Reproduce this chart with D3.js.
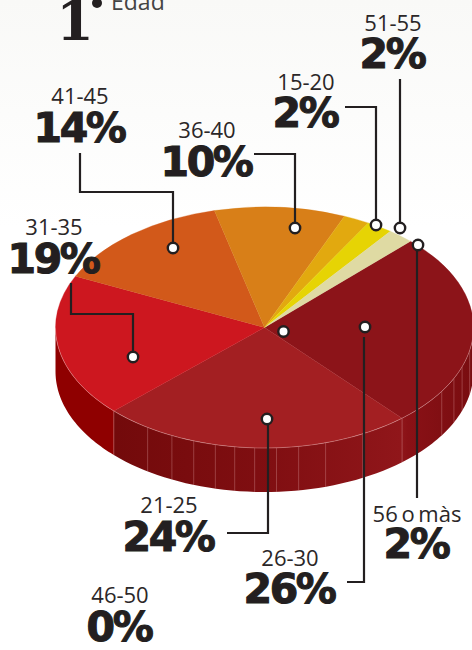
<!DOCTYPE html>
<html><head><meta charset="utf-8">
<script src="https://cdn.jsdelivr.net/npm/d3@7"></script>
<style>
html,body{margin:0;padding:0;background:#fff;overflow:hidden}
svg{display:block}
.lab{font-family:"Open Sans",sans-serif;font-size:22px;fill:#2b2728;text-anchor:middle;word-spacing:-2px}
.pct{font-family:"DejaVu Sans",sans-serif;font-weight:700;font-size:41px;fill:#231f20;stroke:#231f20;stroke-width:1.1px;text-anchor:middle;letter-spacing:-2.4px}
</style></head><body>
<svg id="c" width="472" height="650"></svg>
<script>
// Data: pie order is clockwise from the start angle
const categories = ["26-30","21-25","31-35","41-45","36-40","15-20","51-55","56 o màs","46-50"];
const shares     = [26,24,19,14,10,2,2,2,0];
const topColors  = ["#8c1419","#a31f22","#cd171f","#d2591a","#d87f18","#e2a90f","#e6d404","#dfdaa3","#d87f18"];

// Layout
const cx=264.5, cy=327.5, rx=209, ry=120.5, depth=44, startDeg=44.3;
const ink="#231f20";
// facet seams on the pie wall, degrees clockwise from the top
const wallSeams=[101,109,115,122,152,163,170.6,176.7,182.7,188.2,193.6,199.8,206.3,214];
// per-category annotation layout
const annotations={
 "51-55":{x:393,ly:31,py:68,leader:[[400,79],[400,228]],dot:[400,228]},
 "15-20":{x:306,ly:90,py:127,leader:[[345,107],[376,107],[376,225]],dot:[376,225]},
 "41-45":{x:80,ly:104,py:142,leader:[[80,153],[80,192],[173,192],[173,248]],dot:[173,248]},
 "36-40":{x:207,ly:138,py:176,leader:[[254,154],[295,154],[295,228]],dot:[295,228]},
 "31-35":{x:54,ly:235,py:273,leader:[[71,283],[71,314],[133,314],[133,357]],dot:[133,357]},
 "21-25":{x:169,ly:513,py:551,leader:[[227,533],[268,533],[268,419]],dot:[267,419]},
 "26-30":{x:290,ly:566,py:603,leader:[[347,582],[364,582],[364,337]],dot:[365,327]},
 "56 o màs":{x:417,ly:522,py:558,leader:[[417,498],[417,245]],dot:[418,245]},
 "46-50":{x:120,ly:603,py:641,leader:null,dot:[283.5,331.5]}
};

const svg=d3.select("#c");
const defs=svg.append("defs");
const bg=defs.append("linearGradient").attr("id","bg").attr("x1",0).attr("x2",0).attr("y1",0).attr("y2",1);
bg.append("stop").attr("offset","0%").attr("stop-color","#f9f9f7");
bg.append("stop").attr("offset","35%").attr("stop-color","#ffffff");
svg.append("rect").attr("width",472).attr("height",650).attr("fill","url(#bg)");
const wall=defs.append("linearGradient").attr("id","wall").attr("gradientUnits","userSpaceOnUse")
  .attr("x1",115).attr("x2",472).attr("y1",0).attr("y2",0);
[[0,"#730a0b"],[0.4,"#7f0e11"],[0.8,"#90161a"],[0.82,"#8a1116"],[1,"#790d10"]].forEach(s=>
  wall.append("stop").attr("offset",s[0]).attr("stop-color",s[1]));

const rad=d=>d*Math.PI/180;
const pie=d3.pie().value((d,i)=>shares[i]).sort(null).startAngle(rad(startDeg)).endAngle(rad(startDeg+360));
const arcs=pie(categories);

// Wall: visible part of each slice on the front half of the ellipse
const px=a=>cx+rx*Math.sin(a), py=a=>cy-ry*Math.cos(a);
const lo=Math.PI/2, hi=3*Math.PI/2;
const gWall=svg.append("g");
function wallPath(a0,a1){
  const st=d3.range(0,41).map(i=>a0+(a1-a0)*i/40);
  const l=d3.line();
  return l(st.map(a=>[px(a),py(a)]).concat(st.slice().reverse().map(a=>[px(a),py(a)+depth])))+"Z";
}
const vis=[];
arcs.forEach((d,i)=>{
  for(const off of [0,2*Math.PI]){
    const a0=Math.max(d.startAngle-off,lo), a1=Math.min(d.endAngle-off,hi);
    if(a1>a0) vis.push({a0,a1,i});
  }
});
gWall.selectAll("path").data(vis).join("path")
  .attr("d",d=>wallPath(d.a0,d.a1))
  .attr("fill",d=>categories[d.i]==="31-35"?"#8f0000":"url(#wall)");
// seams
gWall.selectAll("line.seam").data(wallSeams.concat(vis.map(v=>v.a1*180/Math.PI).filter(v=>v<260))).join("line")
  .attr("x1",d=>px(rad(d))).attr("x2",d=>px(rad(d)))
  .attr("y1",d=>py(rad(d))).attr("y2",d=>py(rad(d))+depth)
  .attr("stroke","#d08a8c").attr("stroke-opacity",.5).attr("stroke-width",.8);

// Top face
const arc=d3.arc().innerRadius(0).outerRadius(rx);
const gTop=svg.append("g").attr("transform",`translate(${cx},${cy}) scale(1,${ry/rx})`);
gTop.selectAll("path").data(arcs.filter(d=>d.value>0)).join("path")
  .attr("d",arc).attr("fill",d=>topColors[d.index])
  .attr("stroke",d=>topColors[d.index]).attr("stroke-width",.4);
// rim highlight on the front edge
svg.append("path")
  .attr("d",d3.line()(d3.range(0,91).map(i=>{const a=lo+(hi-lo)*i/90;return [px(a),py(a)];})))
  .attr("fill","none").attr("stroke","#e9b4b4").attr("stroke-opacity",.55).attr("stroke-width",.7);

// Header
svg.append("text").attr("x",75).attr("y",40).attr("text-anchor","middle")
  .attr("font-family","DejaVu Serif").attr("font-weight",700).attr("font-size",54).attr("fill",ink).text("1");
svg.append("circle").attr("cx",97).attr("cy",3).attr("r",5).attr("fill",ink);
svg.append("text").attr("x",111).attr("y",10).attr("font-family","Open Sans").attr("font-size",23).attr("fill","#444").text("Edad");

// Leaders
const lead=d3.line();
const keys=categories;
svg.append("g").selectAll("path").data(keys.filter(k=>annotations[k].leader)).join("path")
  .attr("d",k=>lead(annotations[k].leader))
  .attr("fill","none").attr("stroke",ink).attr("stroke-width",2.2);
svg.append("g").selectAll("circle").data(keys).join("circle")
  .attr("cx",k=>annotations[k].dot[0]).attr("cy",k=>annotations[k].dot[1]).attr("r",5.2)
  .attr("fill","#fff").attr("stroke",ink).attr("stroke-width",2.4);

// Labels
const gL=svg.append("g");
gL.selectAll("text.lab").data(keys).join("text").attr("class","lab")
  .attr("x",k=>annotations[k].x).attr("y",k=>annotations[k].ly).text(k=>k);
gL.selectAll("text.pct").data(keys).join("text").attr("class","pct")
  .attr("x",k=>annotations[k].x-1).attr("y",k=>annotations[k].py).text((k,i)=>shares[i]+"%");
</script></body></html>
